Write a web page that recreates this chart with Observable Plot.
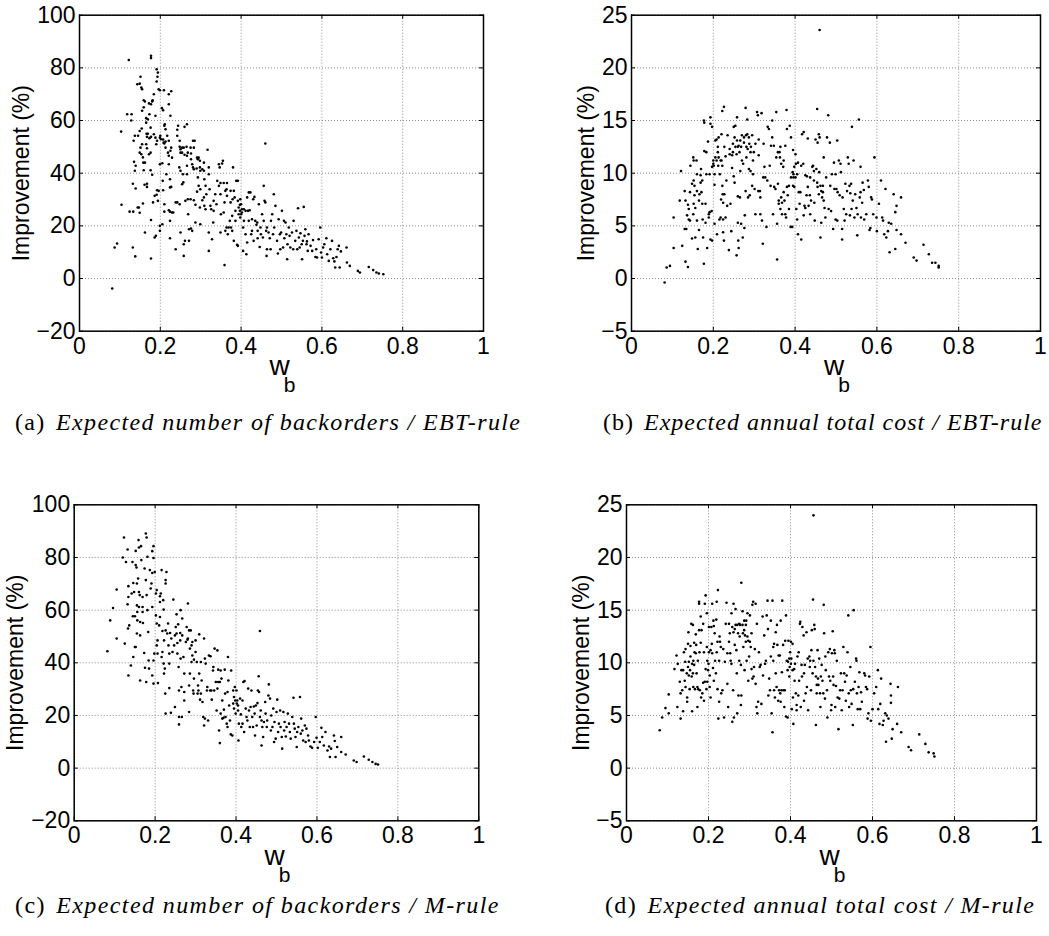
<!DOCTYPE html>
<html><head><meta charset="utf-8">
<script src="https://cdn.jsdelivr.net/npm/d3@7"></script>
<script src="https://cdn.jsdelivr.net/npm/@observablehq/plot@0.6"></script>
<style>
body{margin:0;background:#fff;width:1049px;height:936px;position:relative;overflow:hidden}
.panel{position:absolute}
.cap{position:absolute;font-family:"Liberation Serif","DejaVu Serif",serif;font-size:24px;line-height:24px;white-space:nowrap;color:#000}
.cap i{font-style:italic}
.cap span{margin-right:3px}
</style></head><body>
<div id="pa" class="panel" style="left:0px;top:0px"></div>
<div id="pb" class="panel" style="left:530px;top:0px"></div>
<div id="pc" class="panel" style="left:0px;top:489px"></div>
<div id="pd" class="panel" style="left:530px;top:489px"></div>
<div id="ca" class="cap" style="left:15px;top:410px;letter-spacing:1.35px"></div>
<div id="cb" class="cap" style="left:603px;top:410px;letter-spacing:1.0px"></div>
<div id="cc" class="cap" style="left:15px;top:893px;letter-spacing:1.4px"></div>
<div id="cd" class="cap" style="left:605px;top:893px;letter-spacing:1.35px"></div>
<script>
const xTicks = [0, 0.2, 0.4, 0.6, 0.8, 1];
const yTicksBackorders = [-20, 0, 20, 40, 60, 80, 100];
const yTicksCost = [-5, 0, 5, 10, 15, 20, 25];
const xLabel = "w";
const xLabelSub = "b";
const yLabel = "Improvement (%)";
const captionTags = ["(a)", "(b)", "(c)", "(d)"];
const captionTexts = [
  "Expected number of backorders / EBT-rule",
  "Expected annual total cost / EBT-rule",
  "Expected number of backorders / M-rule",
  "Expected annual total cost / M-rule"
];

// (a) backorders, EBT-rule: [w_b, improvement %]
const pointsA = [
[0.081,-3.8],[0.093,13.3],[0.087,11.8],[0.103,55.8],[0.104,28],[0.122,83],[0.118,62.4],[0.129,62.4],[0.128,60],[0.124,25.4],
[0.132,11.8],[0.138,8.4],[0.134,52.3],[0.137,54.2],[0.135,44.3],[0.139,42.8],[0.137,40.9],[0.132,36],[0.139,34.2],[0.133,25.4],
[0.144,27],[0.149,74],[0.143,73.8],[0.151,76.6],[0.153,72.5],[0.155,71.9],[0.149,56],[0.145,54.2],[0.151,49.7],[0.149,47.8],
[0.155,51],[0.147,27],[0.149,25],[0.157,28.5],[0.154,57],[0.153,47.2],[0.157,46],[0.159,67.7],[0.162,67.2],[0.159,65],
[0.155,63.7],[0.158,44],[0.162,44],[0.159,41.1],[0.162,17.5],[0.161,35.6],[0.167,36],[0.167,34.8],[0.165,60.9],[0.169,60.5],
[0.166,55],[0.169,55],[0.165,51],[0.167,49.5],[0.167,53.8],[0.165,59.2],[0.172,66.5],[0.177,66.2],[0.173,62.4],[0.177,84.6],
[0.177,83.7],[0.18,67.2],[0.181,67.7],[0.176,57.3],[0.173,53.3],[0.177,53.8],[0.176,47.8],[0.172,47.2],[0.176,41.1],[0.177,22.2],
[0.177,7.6],[0.18,39.4],[0.186,31.4],[0.182,28.9],[0.191,31.8],[0.186,15.6],[0.189,16.2],[0.191,79.5],[0.194,78.2],[0.193,76.6],
[0.191,74.8],[0.184,70],[0.188,61.8],[0.184,54.8],[0.188,53.5],[0.192,52.3],[0.19,51],[0.192,33.5],[0.196,33.3],[0.194,29.5],
[0.196,71.9],[0.199,71.5],[0.199,53.5],[0.2,54.2],[0.202,52.9],[0.199,43.4],[0.199,20],[0.199,18.1],[0.204,64.7],[0.207,63.9],
[0.207,52.8],[0.208,51.6],[0.205,43.8],[0.206,37.1],[0.207,33.5],[0.205,20.6],[0.209,71.5],[0.21,58],[0.211,58.6],[0.213,56.7],
[0.213,52],[0.21,51.3],[0.215,39.6],[0.21,25.4],[0.21,28.2],[0.213,49.7],[0.221,66.2],[0.221,70],[0.217,54.2],[0.221,52.3],
[0.219,47.8],[0.221,46.6],[0.221,43.4],[0.224,37.7],[0.224,34.6],[0.227,34.8],[0.224,25.4],[0.221,25.9],[0.224,15.3],[0.224,21.9],
[0.227,71.1],[0.225,61.8],[0.227,49.7],[0.225,48.5],[0.229,45.9],[0.229,25.1],[0.232,25.1],[0.238,28.9],[0.238,11.1],[0.242,28.9],
[0.242,56.5],[0.242,54.2],[0.244,58],[0.248,52.3],[0.248,50],[0.25,49.1],[0.25,47.8],[0.247,42.2],[0.25,40.9],[0.25,17.5],
[0.248,28.2],[0.254,49.7],[0.254,47.8],[0.256,39.6],[0.257,36.5],[0.254,35.8],[0.26,57.6],[0.258,49.7],[0.26,47],[0.262,29.5],
[0.258,13],[0.258,8.6],[0.261,14.3],[0.266,58.6],[0.265,50],[0.268,47.8],[0.266,46.6],[0.266,42.8],[0.266,39.6],[0.268,30.1],
[0.269,24.4],[0.271,14.3],[0.271,18.7],[0.275,30.1],[0.275,49.7],[0.276,47.5],[0.276,45.3],[0.279,43.4],[0.279,18.1],[0.276,19],
[0.281,52.3],[0.285,52.3],[0.283,49.7],[0.281,42.2],[0.283,41.5],[0.283,29.7],[0.287,21.3],[0.287,28],[0.291,45.9],[0.293,45.3],
[0.29,41.8],[0.293,38.4],[0.295,35.2],[0.291,33],[0.295,45.9],[0.298,44.7],[0.298,42.2],[0.299,40.9],[0.299,33.9],[0.298,27],
[0.299,20.6],[0.304,29.7],[0.304,41.5],[0.308,44],[0.308,40.9],[0.309,37.7],[0.308,30.8],[0.309,27.6],[0.312,35.2],[0.314,32],
[0.312,26.3],[0.317,48.9],[0.32,10.5],[0.32,17.5],[0.32,42.2],[0.32,39.6],[0.322,33.9],[0.324,27.6],[0.326,26.3],[0.328,14.9],
[0.332,29.5],[0.331,21.3],[0.332,25.7],[0.336,32],[0.339,28.2],[0.341,37.1],[0.345,43.4],[0.345,35.2],[0.347,42.2],[0.349,36.3],
[0.349,32],[0.349,17.5],[0.35,24.4],[0.353,43.7],[0.355,44.7],[0.357,36.3],[0.357,25.1],[0.359,28.9],[0.359,5.1],[0.361,18.1],
[0.364,19.4],[0.361,33.3],[0.364,33.9],[0.365,36.3],[0.365,31.4],[0.367,16.8],[0.369,19.4],[0.372,21.9],[0.374,28.9],[0.374,33.3],
[0.375,19.4],[0.378,18.1],[0.378,23.8],[0.379,30.1],[0.382,14.3],[0.38,42.2],[0.382,33.3],[0.384,30.8],[0.386,25.7],[0.386,21.9],
[0.388,37.1],[0.39,12.8],[0.392,12.4],[0.392,37.1],[0.392,29.5],[0.394,27],[0.394,24.4],[0.397,28],[0.397,25.7],[0.398,30.1],
[0.398,23.2],[0.4,28.2],[0.4,24.4],[0.402,26.3],[0.402,25.1],[0.405,19.4],[0.405,10.5],[0.407,21.9],[0.407,26.3],[0.411,25.7],
[0.411,16.8],[0.413,9.2],[0.415,30.8],[0.415,13.7],[0.417,25.7],[0.419,32.7],[0.419,21.9],[0.421,25.9],[0.423,32.7],[0.425,16.8],
[0.427,22.5],[0.427,18.1],[0.43,30.1],[0.431,14.3],[0.433,31],[0.435,21.9],[0.438,20.4],[0.44,21.3],[0.441,18.1],[0.441,15.3],
[0.444,28.2],[0.446,12],[0.448,19.4],[0.449,16.8],[0.452,24.4],[0.454,15.6],[0.456,21.9],[0.456,35.2],[0.458,29.5],[0.46,51.3],
[0.46,28.9],[0.462,18.1],[0.463,8.6],[0.464,19.4],[0.464,11.1],[0.468,17.5],[0.471,15.3],[0.473,11.1],[0.474,21.9],[0.477,24.4],
[0.479,16.8],[0.481,32],[0.482,19.4],[0.485,27.6],[0.489,14.3],[0.491,9.5],[0.493,22.5],[0.496,16.8],[0.497,11.1],[0.499,17.5],
[0.501,25.7],[0.504,11.8],[0.506,21.9],[0.507,15.3],[0.51,21.3],[0.512,16.8],[0.514,7.3],[0.515,13],[0.518,19.4],[0.52,16.2],
[0.522,11.8],[0.526,17.5],[0.529,11.1],[0.53,21.9],[0.534,14.3],[0.537,18.1],[0.539,11.1],[0.541,26.7],[0.543,15.6],[0.545,11.8],
[0.547,17.2],[0.55,13],[0.551,7.3],[0.553,14.3],[0.555,27.2],[0.557,16.2],[0.559,18.7],[0.562,13],[0.563,14.1],[0.565,10.5],
[0.567,16.8],[0.572,12.4],[0.576,10.5],[0.578,14.6],[0.584,8.2],[0.586,11.1],[0.588,8],[0.592,14.9],[0.596,19.4],[0.598,9.9],
[0.6,8],[0.603,11.8],[0.606,13],[0.611,15.3],[0.613,9.2],[0.617,6.7],[0.621,11.1],[0.625,14.3],[0.628,7.7],[0.631,6.5],
[0.633,4.2],[0.636,8.2],[0.639,11.1],[0.642,12.4],[0.644,4.2],[0.647,10.3],[0.661,11.8],[0.662,6.1],[0.669,4.8],[0.689,2.9],
[0.694,2.3],[0.716,4.4],[0.727,3.2],[0.735,2.3],[0.741,1.9],[0.752,1.6]
];

// (b) annual total cost, EBT-rule
const pointsB = [
[0.081,-0.38],[0.086,1.05],[0.094,1.2],[0.103,2.9],[0.103,5.8],[0.121,10.2],[0.118,7.4],[0.124,3.1],[0.13,8.3],[0.132,7.4],
[0.13,4.7],[0.134,4.7],[0.132,1.6],[0.138,1.1],[0.136,6],[0.138,7],[0.14,6.6],[0.14,5.6],[0.143,8.2],[0.143,5.5],
[0.144,10.7],[0.148,3.8],[0.151,6.1],[0.151,11.5],[0.152,11.2],[0.152,9.3],[0.148,9],[0.154,8.8],[0.154,7.9],[0.152,7.1],
[0.156,6.7],[0.156,3.9],[0.159,11.2],[0.16,9.9],[0.16,8.3],[0.16,5.5],[0.162,2.8],[0.165,4.6],[0.165,7.4],[0.166,8],
[0.169,9.8],[0.169,9.1],[0.17,10.4],[0.171,8.2],[0.173,9.3],[0.173,7.1],[0.174,5.6],[0.175,3.9],[0.177,15],[0.177,1.4],
[0.178,14.8],[0.178,12.1],[0.181,7.1],[0.181,5.3],[0.183,12],[0.183,9.9],[0.185,2.9],[0.187,13],[0.189,6.1],[0.189,5.8],
[0.191,9.9],[0.191,6.3],[0.193,14.7],[0.193,15.3],[0.193,3.7],[0.196,6.4],[0.197,14.4],[0.197,10.6],[0.197,3.6],[0.2,10.9],
[0.2,11.2],[0.201,10.7],[0.203,5.2],[0.203,9.9],[0.203,8.9],[0.205,13.1],[0.205,11.5],[0.208,11.2],[0.208,13.2],[0.209,4.2],
[0.211,12.5],[0.211,12],[0.212,10.7],[0.213,13.4],[0.213,11.5],[0.215,5.6],[0.216,9.9],[0.218,11.2],[0.218,5.8],[0.219,7.5],
[0.22,13.7],[0.22,11.2],[0.222,15.9],[0.222,10.7],[0.222,8.8],[0.223,8],[0.224,7.2],[0.224,5.6],[0.224,4.4],[0.226,16.3],
[0.226,3.6],[0.227,8],[0.227,12.5],[0.23,5.8],[0.23,11.6],[0.232,9.3],[0.234,6.9],[0.235,13.6],[0.238,2.7],[0.24,12.3],
[0.24,11.8],[0.242,7.1],[0.244,4.5],[0.246,10.5],[0.246,11.7],[0.248,12.8],[0.248,12],[0.25,14.4],[0.25,9.7],[0.252,13.4],
[0.252,9.1],[0.254,12.5],[0.254,14.5],[0.257,11.8],[0.257,2.2],[0.258,15.3],[0.258,13.1],[0.26,12.5],[0.26,7.8],[0.26,5.3],
[0.261,3.6],[0.262,12.6],[0.262,2.9],[0.264,12],[0.265,7.7],[0.266,13.1],[0.266,10.2],[0.268,12.5],[0.268,5.2],[0.27,13.6],
[0.27,11.2],[0.272,3.9],[0.273,10.9],[0.275,13.4],[0.275,12.9],[0.276,4.8],[0.277,6],[0.279,16.2],[0.279,8.3],[0.28,13.6],
[0.281,12.5],[0.281,11.5],[0.283,13.7],[0.283,15.1],[0.284,12.3],[0.285,7.7],[0.287,13.4],[0.287,10.4],[0.288,12.8],[0.289,7.9],
[0.291,12],[0.291,10.2],[0.292,12.5],[0.295,13.6],[0.295,8.8],[0.297,11.2],[0.297,9.9],[0.299,12],[0.301,8.5],[0.303,6.1],
[0.303,12.8],[0.307,15.8],[0.309,15.5],[0.31,8.3],[0.311,11.7],[0.311,13.2],[0.314,8.3],[0.315,7.7],[0.315,6.1],[0.318,15.7],
[0.319,5.5],[0.321,3.3],[0.322,9.6],[0.323,12.8],[0.325,10.6],[0.327,9.6],[0.33,4.9],[0.332,9.3],[0.333,14.4],[0.336,14.2],
[0.338,10.7],[0.34,8.8],[0.341,12.6],[0.344,13.4],[0.344,15],[0.346,6.1],[0.348,12.6],[0.349,8.7],[0.352,8.5],[0.354,15.8],
[0.354,11.5],[0.356,5.2],[0.356,1.8],[0.358,12],[0.358,9],[0.36,7.4],[0.36,7.1],[0.362,12],[0.363,11.5],[0.364,12.5],
[0.364,6.6],[0.366,10.9],[0.366,7.7],[0.368,7.2],[0.368,6.1],[0.371,10.6],[0.372,11.2],[0.372,8.2],[0.374,7.4],[0.376,12.6],
[0.376,6.1],[0.378,5.8],[0.379,16],[0.38,14.2],[0.38,8.7],[0.382,7.9],[0.385,8.8],[0.385,6.6],[0.387,14.5],[0.389,4.9],
[0.39,9.6],[0.39,13.4],[0.393,4.9],[0.394,10.1],[0.395,8.8],[0.395,12.2],[0.396,9.9],[0.396,9.6],[0.398,10.6],[0.398,8.7],
[0.401,11.8],[0.401,9.6],[0.402,10.9],[0.403,6.6],[0.405,9.9],[0.405,5.6],[0.407,11],[0.407,4.2],[0.409,8.2],[0.411,7.1],
[0.413,8.2],[0.415,3.7],[0.415,10.7],[0.417,13.7],[0.42,10.9],[0.421,13.9],[0.421,6],[0.423,6.9],[0.425,6.7],[0.425,9.8],
[0.428,7.9],[0.429,9.7],[0.431,13.3],[0.431,8.7],[0.433,6.9],[0.436,7.9],[0.437,9.6],[0.437,6.1],[0.439,7.4],[0.442,10.6],
[0.444,10.7],[0.446,10.2],[0.446,9.3],[0.447,7.2],[0.448,5.5],[0.45,13.2],[0.452,10.4],[0.454,16.1],[0.454,9.1],[0.455,12.9],
[0.455,8.7],[0.458,13.7],[0.458,8],[0.459,10.1],[0.46,13.4],[0.46,23.6],[0.462,8.8],[0.462,3.9],[0.464,5.3],[0.464,8.3],
[0.466,7.7],[0.468,8.8],[0.468,8.2],[0.47,7.4],[0.47,11.5],[0.472,6.7],[0.474,5.8],[0.476,9.6],[0.478,13.4],[0.481,15.5],
[0.482,6.6],[0.485,12.9],[0.486,8.8],[0.488,6.4],[0.49,9.9],[0.493,4.7],[0.495,11],[0.496,8.5],[0.499,9.9],[0.499,5.6],
[0.501,8.5],[0.503,13.1],[0.503,5.5],[0.504,8.2],[0.507,11.2],[0.509,7.9],[0.511,10.9],[0.512,10.1],[0.515,4.7],[0.515,3.7],
[0.516,7.7],[0.519,6.6],[0.521,5.5],[0.523,9],[0.525,6.1],[0.527,8.3],[0.529,11.5],[0.531,10.9],[0.533,8.8],[0.534,6],
[0.535,8.1],[0.537,9],[0.538,6.6],[0.539,14.4],[0.541,7.4],[0.543,11.2],[0.545,5.8],[0.547,8],[0.55,6.7],[0.552,4.1],
[0.553,6.1],[0.556,15.1],[0.558,7.7],[0.56,10.6],[0.56,8.2],[0.561,5.8],[0.564,7.2],[0.565,9.1],[0.568,8.4],[0.569,5.6],
[0.574,6.1],[0.578,9.3],[0.58,8.7],[0.582,4.6],[0.584,4.8],[0.586,7.7],[0.588,7.5],[0.591,6.1],[0.594,11.5],[0.599,5.8],
[0.6,4.5],[0.605,7.1],[0.61,9.3],[0.613,5.8],[0.615,5.5],[0.618,4.2],[0.621,8.5],[0.623,3.9],[0.627,4.5],[0.629,5.3],
[0.631,2.5],[0.635,5.2],[0.641,8],[0.645,6.3],[0.645,2.8],[0.648,6.9],[0.648,4.6],[0.659,7.7],[0.659,4.2],[0.67,3.4],
[0.69,2],[0.697,1.7],[0.714,3.2],[0.727,2.3],[0.735,1.5],[0.743,1.5],[0.751,1.2],[0.751,1.05]
];

// (c) backorders, M-rule
const pointsC = [
[0.082,44.4],[0.089,56.1],[0.096,60.8],[0.105,67.8],[0.105,49.2],[0.123,87.6],[0.12,80],[0.128,78.3],[0.125,47.3],[0.132,83],
[0.134,69.1],[0.132,62.2],[0.134,65],[0.133,53],[0.136,54.2],[0.134,35.2],[0.14,39],[0.142,66.3],[0.144,78.3],[0.146,70.3],
[0.148,66.9],[0.145,57.7],[0.15,57.7],[0.146,42.2],[0.15,46],[0.152,82.5],[0.152,77.1],[0.154,76.2],[0.155,70.1],[0.155,61.8],
[0.156,59.3],[0.156,56.1],[0.155,51.1],[0.152,46],[0.159,86.6],[0.16,83.8],[0.158,72],[0.16,66.9],[0.162,65.7],[0.16,61.2],
[0.163,55.5],[0.163,50.4],[0.163,33.3],[0.165,84.3],[0.166,79],[0.169,65],[0.169,61.2],[0.169,59.3],[0.17,55.1],[0.173,43.7],
[0.174,75.8],[0.177,89.1],[0.179,87.6],[0.177,71.4],[0.179,65.7],[0.175,38.1],[0.178,32.7],[0.181,80.3],[0.181,60],[0.183,51.7],
[0.184,40.9],[0.185,37.8],[0.187,75.2],[0.189,68.2],[0.191,70.1],[0.193,61.2],[0.193,82.4],[0.196,84.3],[0.196,79.8],[0.193,74.1],
[0.198,43.5],[0.196,40.9],[0.196,32.1],[0.193,35.2],[0.199,74.5],[0.202,66.3],[0.204,67.6],[0.202,58],[0.204,54.9],[0.206,48.5],
[0.204,46.6],[0.206,43.5],[0.207,32.3],[0.21,54.2],[0.212,63.1],[0.212,65.3],[0.214,66.3],[0.212,57.4],[0.216,75.2],[0.218,52.1],
[0.218,44.1],[0.216,42.2],[0.22,63.8],[0.221,60.2],[0.221,39.7],[0.222,48.5],[0.222,35.9],[0.224,37.8],[0.225,28.3],[0.226,71.4],
[0.226,70.1],[0.228,74.5],[0.226,52.3],[0.226,20.7],[0.23,51.1],[0.232,54.9],[0.233,46.6],[0.235,43.5],[0.235,39.7],[0.235,30.4],
[0.237,51.3],[0.239,21],[0.24,49.2],[0.243,44.1],[0.245,64],[0.247,46.6],[0.249,50.4],[0.249,23.2],[0.251,53.6],[0.253,51.1],
[0.253,58.4],[0.255,47.5],[0.255,43.5],[0.257,54.6],[0.258,38.4],[0.259,19.4],[0.259,16.6],[0.259,29.5],[0.262,51.3],[0.262,48.5],
[0.263,60],[0.263,41.6],[0.265,30.8],[0.267,56.8],[0.266,19.4],[0.267,50.4],[0.27,42.2],[0.272,35.9],[0.272,28.9],[0.272,25.7],
[0.276,47.9],[0.278,53.6],[0.28,48.8],[0.281,62.5],[0.281,49.2],[0.284,52.3],[0.284,21.3],[0.284,31.4],[0.286,45.4],[0.286,35.9],
[0.288,52.3],[0.29,46.6],[0.29,40.3],[0.292,47.9],[0.292,42.8],[0.294,29.5],[0.295,28.3],[0.296,41.2],[0.296,34],[0.3,48.5],
[0.3,44.1],[0.303,40.3],[0.305,28.3],[0.306,31.4],[0.307,29.5],[0.309,50.8],[0.309,35.9],[0.311,26],[0.313,40.3],[0.313,28.3],
[0.315,33.3],[0.317,25.1],[0.319,19.4],[0.321,49.2],[0.321,16.2],[0.323,18.8],[0.323,41.6],[0.325,39.7],[0.328,29.5],[0.329,30.8],
[0.331,18.1],[0.333,42.8],[0.336,29.5],[0.337,42.5],[0.339,29.5],[0.34,26],[0.343,37.1],[0.344,38.4],[0.346,29.5],[0.347,45.4],
[0.35,32.7],[0.352,21.9],[0.354,44.7],[0.354,30.2],[0.356,37.4],[0.356,32.7],[0.358,14.3],[0.36,9.5],[0.36,32.7],[0.362,20.7],
[0.362,37.1],[0.364,34],[0.366,25.7],[0.366,18.8],[0.369,19.1],[0.37,22.2],[0.372,37.4],[0.373,28.3],[0.374,19.4],[0.377,16.9],
[0.379,15.6],[0.379,28.9],[0.38,42.2],[0.381,33.3],[0.383,23.8],[0.385,18.1],[0.387,12.8],[0.388,37.1],[0.391,12.4],[0.393,29.5],
[0.393,24.5],[0.395,27],[0.395,22.6],[0.397,30.8],[0.398,25.7],[0.399,20.7],[0.401,29.5],[0.402,24.5],[0.403,25.7],[0.405,23.8],
[0.405,21.9],[0.406,10.5],[0.407,16.9],[0.41,26.4],[0.412,20.4],[0.413,15.6],[0.416,25.7],[0.416,16.9],[0.418,32.7],[0.42,13.7],
[0.421,33.1],[0.424,22.6],[0.426,19.4],[0.428,18.1],[0.43,30.2],[0.432,21.9],[0.434,15.6],[0.436,23.2],[0.438,29.5],[0.44,19.4],
[0.442,15.6],[0.444,23.4],[0.446,20.7],[0.447,12.4],[0.449,23.8],[0.451,16.2],[0.453,24.7],[0.454,29.5],[0.456,34.9],[0.457,28.9],
[0.459,52.1],[0.459,19.4],[0.461,21.9],[0.463,18.1],[0.463,8.6],[0.465,15.6],[0.467,11.8],[0.469,17.5],[0.472,25.1],[0.473,20.7],
[0.476,15.6],[0.477,18.1],[0.48,27.6],[0.481,31.8],[0.484,26.4],[0.486,14.3],[0.487,20],[0.49,15.6],[0.492,22.6],[0.494,9.9],
[0.495,17.5],[0.498,11.2],[0.5,21.3],[0.502,26],[0.504,13.7],[0.506,16.9],[0.509,21.9],[0.51,15.6],[0.513,11.8],[0.514,7.4],
[0.517,21.3],[0.519,14.3],[0.52,17.5],[0.523,12],[0.525,15.6],[0.528,20.7],[0.531,16.9],[0.533,13.7],[0.535,11.2],[0.539,19.4],
[0.542,26.7],[0.543,16.9],[0.545,15],[0.547,11.8],[0.55,8],[0.551,13.7],[0.554,15.6],[0.558,27],[0.56,13.1],[0.561,18.8],
[0.564,14.3],[0.566,10.5],[0.57,16.2],[0.572,9.9],[0.574,15],[0.578,12.4],[0.58,10.5],[0.584,8.2],[0.588,7.7],[0.593,9.9],
[0.597,19.4],[0.599,11.5],[0.602,7.7],[0.607,9.9],[0.611,15.3],[0.613,11.8],[0.617,8.6],[0.621,13.7],[0.626,6.7],[0.63,8.2],
[0.632,4.2],[0.635,7.4],[0.642,12.4],[0.644,10.3],[0.646,4.2],[0.65,8],[0.66,11.8],[0.66,6.1],[0.671,5.2],[0.691,2.9],
[0.698,2.3],[0.716,4.4],[0.728,3.2],[0.737,2.3],[0.745,1.6],[0.751,1.4]
];

// (d) annual total cost, M-rule
const pointsD = [
[0.081,3.6],[0.087,4.8],[0.095,5.7],[0.103,5.2],[0.103,7],[0.117,9.4],[0.122,10.7],[0.124,5.8],[0.125,9.9],[0.13,8.2],
[0.132,4.7],[0.132,7.1],[0.134,9.3],[0.136,7.4],[0.138,5.4],[0.138,9.3],[0.14,11],[0.142,8.3],[0.143,10.1],[0.144,7.7],
[0.144,11.3],[0.147,9],[0.148,6.7],[0.148,6.3],[0.15,9.6],[0.15,11.8],[0.151,12.9],[0.152,10.1],[0.152,8.8],[0.154,7.5],
[0.155,9.3],[0.156,10.6],[0.156,11.6],[0.158,13.7],[0.159,8.7],[0.16,9.9],[0.16,5.4],[0.162,13.6],[0.162,9],[0.163,10.2],
[0.163,7.7],[0.165,11.9],[0.165,9.8],[0.166,11],[0.167,7.5],[0.169,12.7],[0.169,10.9],[0.17,11.7],[0.171,9],[0.173,7.7],
[0.173,5.8],[0.174,10.2],[0.175,7.5],[0.177,15.6],[0.177,15.8],[0.177,13.1],[0.178,11],[0.179,7.4],[0.181,14.4],[0.181,11.9],
[0.182,6.7],[0.183,13.1],[0.185,7.1],[0.187,13.7],[0.187,8.1],[0.189,6.4],[0.189,11],[0.191,15.6],[0.191,8.2],[0.193,16.4],
[0.193,9.4],[0.195,7.5],[0.196,14.7],[0.196,11.5],[0.197,8.2],[0.197,10.2],[0.199,9.3],[0.2,9.9],[0.201,13.4],[0.201,11],
[0.203,7.7],[0.203,8.8],[0.205,11.2],[0.205,6.7],[0.207,13.4],[0.208,11.8],[0.209,15.6],[0.209,10.9],[0.211,9.5],[0.212,14],
[0.213,8.3],[0.213,13.5],[0.215,12.8],[0.216,10.2],[0.218,9],[0.219,14.1],[0.22,15.8],[0.22,11],[0.222,12],[0.222,7.5],
[0.223,16.9],[0.224,4.7],[0.226,10.2],[0.226,6.3],[0.227,12.5],[0.228,12],[0.23,11.5],[0.231,7.1],[0.234,7.4],[0.236,11.3],
[0.238,4.8],[0.24,10.1],[0.242,13.7],[0.244,15.7],[0.246,10.9],[0.246,8],[0.248,5.8],[0.25,13.7],[0.25,12],[0.252,12.8],
[0.253,10.9],[0.254,10.2],[0.256,14.7],[0.256,9.9],[0.258,4.4],[0.258,13.4],[0.26,7.4],[0.261,15.6],[0.261,12.9],[0.262,4.8],
[0.264,13.2],[0.264,11.7],[0.266,13.6],[0.266,15.1],[0.268,11.2],[0.269,9],[0.27,5.2],[0.27,13.6],[0.272,12.8],[0.273,6.9],
[0.275,13.7],[0.275,10.2],[0.276,12.5],[0.277,13.6],[0.279,6],[0.279,9.8],[0.28,17.6],[0.28,6.9],[0.283,13.6],[0.283,14.9],
[0.284,12.8],[0.285,11.5],[0.287,14],[0.287,13.1],[0.288,9.3],[0.289,12.6],[0.291,13.6],[0.291,12],[0.292,14],[0.293,10.2],
[0.295,12.5],[0.295,14.7],[0.297,8.3],[0.297,12.1],[0.299,10.6],[0.301,14.5],[0.301,12],[0.303,11.5],[0.305,12.8],[0.305,9.4],
[0.307,15.5],[0.307,8.5],[0.309,15.8],[0.31,8.7],[0.311,9.6],[0.313,11.3],[0.315,15.6],[0.315,8],[0.317,5.8],[0.318,13.7],
[0.319,5.2],[0.321,6.3],[0.323,11],[0.325,9.6],[0.327,9.8],[0.329,6.1],[0.332,14.4],[0.333,8.8],[0.336,12.6],[0.338,9.9],
[0.34,10.2],[0.342,14.5],[0.344,15.9],[0.345,13.2],[0.346,6.9],[0.348,8.5],[0.35,7.4],[0.352,14],[0.352,10.6],[0.354,5.2],
[0.356,15.9],[0.356,3.4],[0.358,11.5],[0.358,10.2],[0.36,11.8],[0.36,7.4],[0.362,6.7],[0.364,9],[0.364,12.9],[0.366,7.7],
[0.367,13.6],[0.368,11.7],[0.37,6.4],[0.371,10.7],[0.372,7.4],[0.374,10.7],[0.375,7.1],[0.376,14],[0.376,6.3],[0.378,7.4],
[0.379,9.1],[0.38,15.9],[0.382,11.7],[0.383,7.4],[0.385,5.8],[0.386,7.4],[0.387,12.1],[0.389,14.5],[0.389,4.9],[0.391,10.2],
[0.393,4.8],[0.393,9.3],[0.394,10.1],[0.395,12.1],[0.397,10.4],[0.397,8.7],[0.398,9.6],[0.399,11],[0.401,12],[0.401,9.9],
[0.402,10.4],[0.403,5.6],[0.405,11.8],[0.405,9.3],[0.406,6.7],[0.407,4.2],[0.409,9.4],[0.41,8.3],[0.411,9.9],[0.413,7.1],
[0.415,6],[0.415,5.5],[0.417,10.6],[0.419,6.9],[0.42,11],[0.421,8.3],[0.423,13.7],[0.424,13.9],[0.425,5.8],[0.427,9.8],
[0.428,8.7],[0.429,13.4],[0.432,12.6],[0.433,9],[0.433,6.4],[0.435,9.8],[0.437,7.1],[0.439,12.9],[0.44,7.7],[0.442,10.4],
[0.443,5.5],[0.446,10.6],[0.447,9.6],[0.448,10.2],[0.45,7.4],[0.451,11.2],[0.452,13.1],[0.454,9],[0.455,16],[0.456,10.2],
[0.456,24],[0.458,13.6],[0.459,13.2],[0.46,9.6],[0.462,4.1],[0.462,8.7],[0.464,7.1],[0.464,7.9],[0.466,11.2],[0.467,8.5],
[0.468,7.9],[0.47,10.4],[0.472,7.1],[0.473,5.8],[0.474,8.7],[0.476,9.8],[0.478,8.3],[0.48,7.1],[0.481,15.5],[0.482,12.8],
[0.484,6.6],[0.485,10.6],[0.486,9.3],[0.489,7.4],[0.49,4.8],[0.492,11],[0.494,8.7],[0.496,11.3],[0.497,8.3],[0.499,5.5],
[0.5,6],[0.501,10.9],[0.503,13],[0.504,8.7],[0.505,7.9],[0.507,11.2],[0.508,10.9],[0.509,5.8],[0.511,7.8],[0.513,10.2],
[0.515,6.7],[0.517,3.7],[0.519,6.6],[0.521,7.4],[0.523,9],[0.525,5.5],[0.527,7.4],[0.529,11.5],[0.531,9],[0.533,8.2],
[0.535,6.4],[0.537,8.8],[0.539,11],[0.541,14.5],[0.542,7.1],[0.543,5.8],[0.546,9.6],[0.547,7.4],[0.549,6.1],[0.552,4.1],
[0.553,7.5],[0.554,15],[0.557,8.2],[0.56,10.4],[0.561,10.2],[0.562,7.1],[0.564,5.6],[0.566,7.7],[0.568,9.1],[0.57,5.6],
[0.572,7.2],[0.574,6.3],[0.58,9],[0.582,8.8],[0.584,7.7],[0.587,7.5],[0.588,4.7],[0.59,5.2],[0.592,8.7],[0.595,11.5],
[0.596,4.5],[0.6,5.6],[0.604,7.1],[0.609,7.7],[0.613,9.3],[0.614,5.6],[0.617,4.2],[0.619,6.1],[0.621,8.5],[0.625,4.1],
[0.627,4.5],[0.631,5.2],[0.633,2.5],[0.635,5],[0.639,4.7],[0.644,8],[0.645,6.9],[0.645,6.2],[0.647,2.8],[0.649,3.7],
[0.66,4.2],[0.662,7.7],[0.67,3.4],[0.688,2],[0.694,1.7],[0.714,3.2],[0.729,2.3],[0.737,1.5],[0.749,1.4],[0.751,1.1]
];

const fmt = d => d < 0 ? "\u2212" + Math.abs(d) : String(d);

function scatter(points, yTicks, L) {
  const xDom = [xTicks[0], xTicks[xTicks.length - 1]];
  const yDom = [yTicks[0], yTicks[yTicks.length - 1]];
  const grid = {stroke: "#8c8c8c", strokeOpacity: 1, strokeWidth: 1, strokeDasharray: "1,2"};
  return Plot.plot({
    width: L.ml + L.fw + L.mr,
    height: L.mt + L.fh + L.mb,
    marginLeft: L.ml, marginRight: L.mr, marginTop: L.mt, marginBottom: L.mb,
    style: {fontFamily: '"Liberation Sans", Arial, Helvetica, sans-serif', fontSize: "23px", color: "#000", background: "transparent", overflow: "visible"},
    x: {domain: xDom},
    y: {domain: yDom},
    marks: [
      Plot.gridX(xTicks, grid),
      Plot.gridY(yTicks, grid),
      Plot.ruleX(xTicks, {x: d => d, y1: yDom[0], y2: yDom[0], insetTop: -4, stroke: "#000"}),
      Plot.ruleX(xTicks, {x: d => d, y1: yDom[1], y2: yDom[1], insetBottom: -4, stroke: "#000"}),
      Plot.ruleY(yTicks, {y: d => d, x1: xDom[0], x2: xDom[0], insetRight: -4, stroke: "#000"}),
      Plot.ruleY(yTicks, {y: d => d, x1: xDom[1], x2: xDom[1], insetLeft: -4, stroke: "#000"}),
      Plot.axisX(xTicks, {tickSize: 0, tickPadding: 6, tickFormat: fmt, label: null}),
      Plot.axisY(yTicks, {tickSize: 0, tickPadding: 4, tickFormat: fmt, label: null}),
      Plot.dot(points, {x: d => d[0], y: d => d[1], r: 1.3, fill: "#000", stroke: "none"}),
      Plot.frame({stroke: "#000", strokeWidth: 1.5}),
      Plot.text([yLabel], {frameAnchor: "left", textAnchor: "middle", dx: L.ylab, rotate: -90, lineAnchor: "bottom", fontSize: 23}),
      Plot.text([xLabel], {frameAnchor: "bottom", textAnchor: "middle", dx: -2, dy: 44, lineAnchor: "bottom", fontSize: 28}),
      Plot.text([xLabelSub], {frameAnchor: "bottom", textAnchor: "middle", dx: 8, dy: 61, lineAnchor: "bottom", fontSize: 21})
    ]
  });
}

document.getElementById("pa").append(scatter(pointsA, yTicksBackorders, {ml: 79, mt: 14.7, fw: 404, fh: 316, mr: 10, mb: 75, ylab: -51}));
document.getElementById("pb").append(scatter(pointsB, yTicksCost, {ml: 101, mt: 14.7, fw: 409, fh: 316, mr: 9, mb: 75, ylab: -38}));
document.getElementById("pc").append(scatter(pointsC, yTicksBackorders, {ml: 73.7, mt: 15.3, fw: 404.6, fh: 316, mr: 10, mb: 75, ylab: -51}));
document.getElementById("pd").append(scatter(pointsD, yTicksCost, {ml: 96, mt: 15.3, fw: 410, fh: 316, mr: 13, mb: 75, ylab: -38}));

["ca", "cb", "cc", "cd"].forEach((id, i) => {
  const el = document.getElementById(id);
  const tag = document.createElement("span");
  tag.textContent = captionTags[i];
  el.append(tag, " ");
  const it = document.createElement("i");
  it.textContent = captionTexts[i];
  el.append(it);
});
</script>
</body></html>
